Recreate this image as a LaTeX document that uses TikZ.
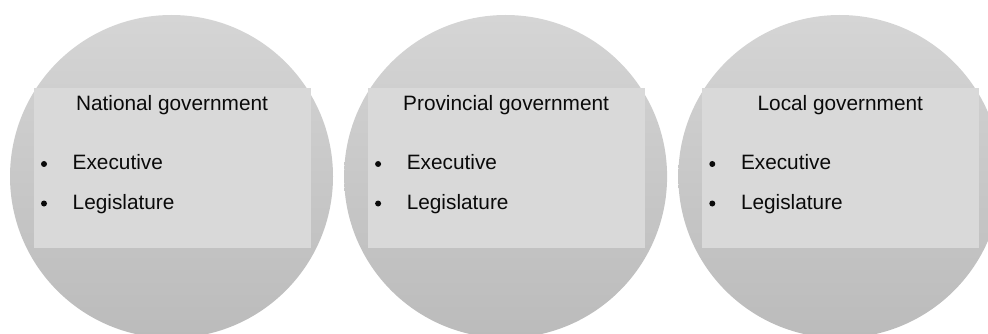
\documentclass[tikz,border=0pt]{standalone}
\usepackage{fontspec}
\setmainfont{Liberation Sans}
\definecolor{ctop}{HTML}{D5D5D5}
\definecolor{cbot}{HTML}{BBBBBB}
\definecolor{rectfill}{HTML}{D9D9D9}
\definecolor{txt}{HTML}{0A0A0A}
\begin{document}
\begin{tikzpicture}[x=1pt,y=-1pt,
  disc/.style={circle,minimum size=323pt,inner sep=0pt,top color=ctop,bottom color=cbot,draw=none},
  panel/.style={fill=rectfill,draw=none},
  ttl/.style={font=\fontsize{20.8}{24}\selectfont,text=txt,anchor=base},
  itm/.style={font=\fontsize{20.8}{24}\selectfont,text=txt,anchor=base west,inner sep=0pt},
  bul/.style={circle,fill=txt,inner sep=0pt,minimum size=6pt}]
\useasboundingbox (0,0) rectangle (988,334);
\begin{scope}
\clip (0,0) rectangle (988,334);
\foreach \n/\cx/\t in {a/171.5/National government,b/505.6/Provincial government,c/839.8/Local government}{
  \node[disc] (circ\n) at (\cx,176.5) {};
  \path[panel] (\cx-137.5,88) rectangle (\cx+139.5,248);
  \node[ttl] (title\n) at (\cx+0.5,111) {\t};
  \node[bul] (bula\n) at (\cx-127.5,164) {};
  \node[itm] (exec\n) at (\cx-99,169.5) {Executive};
  \node[bul] (bulb\n) at (\cx-127.5,203.5) {};
  \node[itm] (leg\n) at (\cx-99,209.5) {Legislature};
}
\end{scope}
\end{tikzpicture}
\end{document}
